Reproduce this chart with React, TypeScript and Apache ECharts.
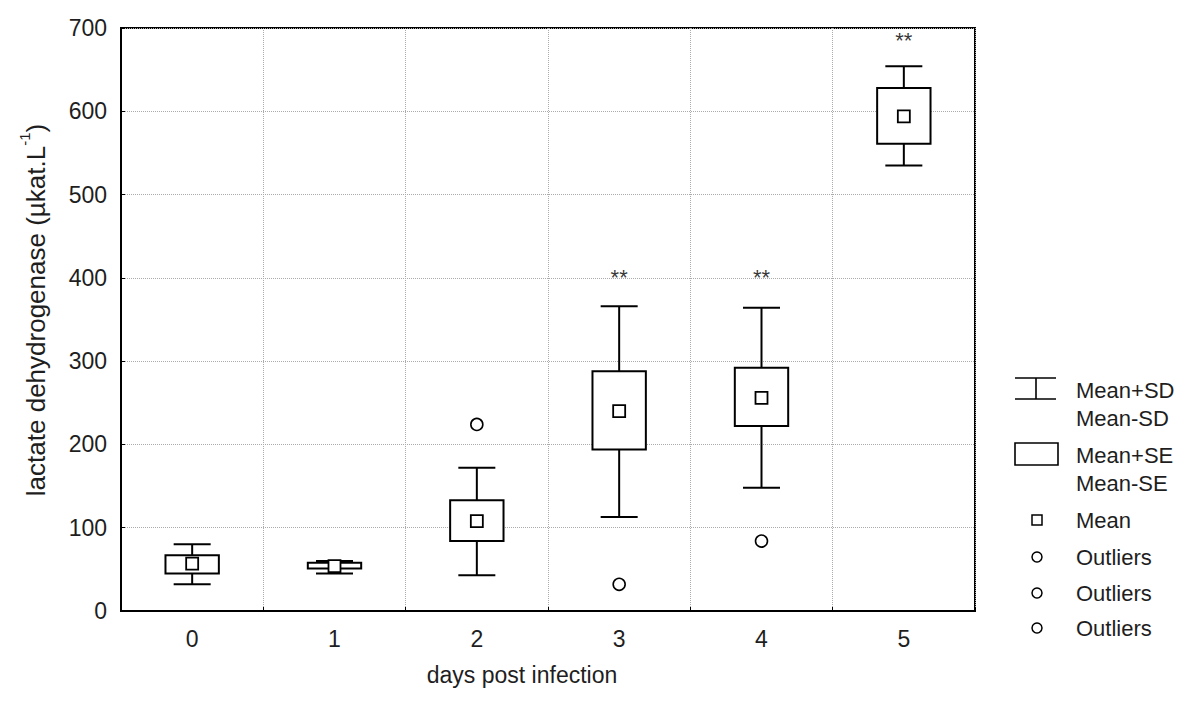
import React, { useEffect, useRef } from "react";
import * as echarts from "echarts";

const days = ["0", "1", "2", "3", "4", "5"];
const meanMinusSD = [32, 45, 43, 113, 148, 535];
const meanMinusSE = [45, 51, 84, 194, 222, 561];
const means = [57, 54, 108, 240, 256, 594];
const meanPlusSE = [67, 58, 133, 288, 292, 628];
const meanPlusSD = [80, 60, 172, 366, 364, 654];
const outliers: [number, number][] = [
  [2, 224],
  [3, 32],
  [4, 84],
];
const significance: [number, number, string][] = [
  [3, 400, "**"],
  [4, 400, "**"],
  [5, 685, "**"],
];
const yTicks = { min: 0, max: 700, interval: 100 };
const legendItems = ["Mean+SD\nMean-SD", "Mean+SE\nMean-SE", "Mean", "Outliers", "Outliers", "Outliers"];

const FONT = "'Liberation Sans', Arial, sans-serif";
const TXT = "#1e1e1e";

export default function App() {
  const ref = useRef<HTMLDivElement>(null);
  useEffect(() => {
    if (!ref.current) return;
    const chart = echarts.init(ref.current, undefined, { renderer: "svg" });
    const boxData = days.map((_, i) => [
      i,
      meanMinusSD[i],
      meanMinusSE[i],
      means[i],
      meanPlusSE[i],
      meanPlusSD[i],
    ]);
    const lineStyle = { stroke: "#000", lineWidth: 2 };
    const option: any = {
      animation: false,
      backgroundColor: "#fff",
      textStyle: { fontFamily: FONT },
      grid: {
        left: 121,
        right: 225,
        top: 28,
        bottom: 100,
        containLabel: false,
        outerBoundsMode: "none",
        show: true,
        borderColor: "#000",
        borderWidth: 2,
      },
      xAxis: {
        type: "category",
        data: days,
        boundaryGap: true,
        axisLine: { lineStyle: { color: "#000", width: 2 } },
        axisTick: { show: true, inside: true, length: 4, lineStyle: { color: "#000" } },
        axisLabel: { color: TXT, fontSize: 23, margin: 16, fontFamily: FONT },
        splitLine: { show: true, lineStyle: { color: "#ababab", type: "dotted", width: 1 } },
      },
      yAxis: {
        type: "value",
        min: yTicks.min,
        max: yTicks.max,
        interval: yTicks.interval,
        axisLine: { show: true, lineStyle: { color: "#000", width: 2 } },
        axisTick: { show: true, inside: true, length: 4, lineStyle: { color: "#000" } },
        axisLabel: { color: TXT, fontSize: 23, margin: 14, fontFamily: FONT },
        splitLine: { show: true, lineStyle: { color: "#ababab", type: "dotted", width: 1 } },
      },
      series: [
        {
          type: "custom",
          name: "boxes",
          data: boxData,
          encode: { x: 0, y: [1, 2, 3, 4, 5] },
          renderItem: (params: any, api: any) => {
            const x = api.value(0);
            const band = api.size([1, 0])[0];
            const boxW = band * 0.375;
            const capW = band * 0.26;
            const pSDlo = api.coord([x, api.value(1)]);
            const pSElo = api.coord([x, api.value(2)]);
            const pSEhi = api.coord([x, api.value(4)]);
            const pSDhi = api.coord([x, api.value(5)]);
            const cx = pSDlo[0];
            return {
              type: "group",
              children: [
                { type: "line", shape: { x1: cx, y1: pSEhi[1], x2: cx, y2: pSDhi[1] }, style: lineStyle },
                { type: "line", shape: { x1: cx - capW / 2, y1: pSDhi[1], x2: cx + capW / 2, y2: pSDhi[1] }, style: lineStyle },
                { type: "line", shape: { x1: cx, y1: pSElo[1], x2: cx, y2: pSDlo[1] }, style: lineStyle },
                { type: "line", shape: { x1: cx - capW / 2, y1: pSDlo[1], x2: cx + capW / 2, y2: pSDlo[1] }, style: lineStyle },
                {
                  type: "rect",
                  shape: { x: cx - boxW / 2, y: pSEhi[1], width: boxW, height: pSElo[1] - pSEhi[1] },
                  style: { fill: "#fff", stroke: "#000", lineWidth: 2 },
                },
              ],
            };
          },
          z: 2,
        },
        {
          type: "scatter",
          name: "Mean",
          data: means.map((v, i) => [i, v]),
          symbol: "rect",
          symbolSize: 12,
          itemStyle: { color: "#fff", borderColor: "#000", borderWidth: 1.8, opacity: 1 },
          z: 3,
        },
        {
          type: "scatter",
          name: "Outliers",
          data: outliers,
          symbol: "circle",
          symbolSize: 12,
          itemStyle: { color: "#fff", borderColor: "#000", borderWidth: 1.6, opacity: 1 },
          z: 3,
        },
        {
          type: "scatter",
          name: "sig",
          data: significance.map((d) => [d[0], d[1], d[2]]),
          symbolSize: 0,
          silent: true,
          label: {
            show: true,
            position: "inside",
            formatter: (p: any) => p.value[2],
            color: "#000",
            fontSize: 22,
            fontFamily: FONT,
          },
          z: 4,
        },
      ],
      graphic: [
        {
          type: "text",
          x: 522,
          y: 675,
          style: {
            text: "days post infection",
            fill: TXT,
            font: `23px ${FONT}`,
            align: "center",
            verticalAlign: "middle",
          },
        },
        {
          type: "text",
          x: 33,
          y: 310,
          rotation: Math.PI / 2,
          style: {
            text: "{a|lactate dehydrogenase (µkat.L}{s|-1}{a|)}",
            align: "center",
            verticalAlign: "middle",
            rich: {
              a: { fontSize: 26, fontFamily: FONT, fill: TXT, lineHeight: 32, verticalAlign: "bottom" },
              s: { fontSize: 15, fontFamily: FONT, fill: TXT, lineHeight: 32, verticalAlign: "top" },
            },
          },
        },
        // legend: whisker icon
        { type: "line", shape: { x1: 1015, y1: 378, x2: 1056, y2: 378 }, style: { stroke: "#000", lineWidth: 1.6 } },
        { type: "line", shape: { x1: 1036, y1: 378, x2: 1036, y2: 399 }, style: { stroke: "#000", lineWidth: 1.6 } },
        { type: "line", shape: { x1: 1015, y1: 399, x2: 1056, y2: 399 }, style: { stroke: "#000", lineWidth: 1.6 } },
        {
          type: "text",
          x: 1076,
          y: 404,
          style: { text: legendItems[0], fill: TXT, font: `22px ${FONT}`, lineHeight: 28, verticalAlign: "middle" },
        },
        // legend: box icon
        { type: "rect", shape: { x: 1015, y: 443, width: 43, height: 22 }, style: { fill: "#fff", stroke: "#000", lineWidth: 1.6 } },
        {
          type: "text",
          x: 1076,
          y: 469,
          style: { text: legendItems[1], fill: TXT, font: `22px ${FONT}`, lineHeight: 28, verticalAlign: "middle" },
        },
        // legend: mean icon
        { type: "rect", shape: { x: 1032, y: 515, width: 10, height: 10 }, style: { fill: "#fff", stroke: "#000", lineWidth: 1.5 } },
        {
          type: "text",
          x: 1076,
          y: 520,
          style: { text: legendItems[2], fill: TXT, font: `22px ${FONT}`, verticalAlign: "middle" },
        },
        ...[557, 593, 628].flatMap((yy, k) => [
          { type: "circle", shape: { cx: 1037, cy: yy, r: 5 }, style: { fill: "#fff", stroke: "#000", lineWidth: 1.5 } },
          {
            type: "text",
            x: 1076,
            y: yy,
            style: { text: legendItems[3 + k], fill: TXT, font: `22px ${FONT}`, verticalAlign: "middle" },
          },
        ]),
      ],
    };
    chart.setOption(option);
    return () => chart.dispose();
  }, []);
  return <div ref={ref} style={{ width: 1200, height: 711, position: "absolute", left: 0, top: 0 }} />;
}
